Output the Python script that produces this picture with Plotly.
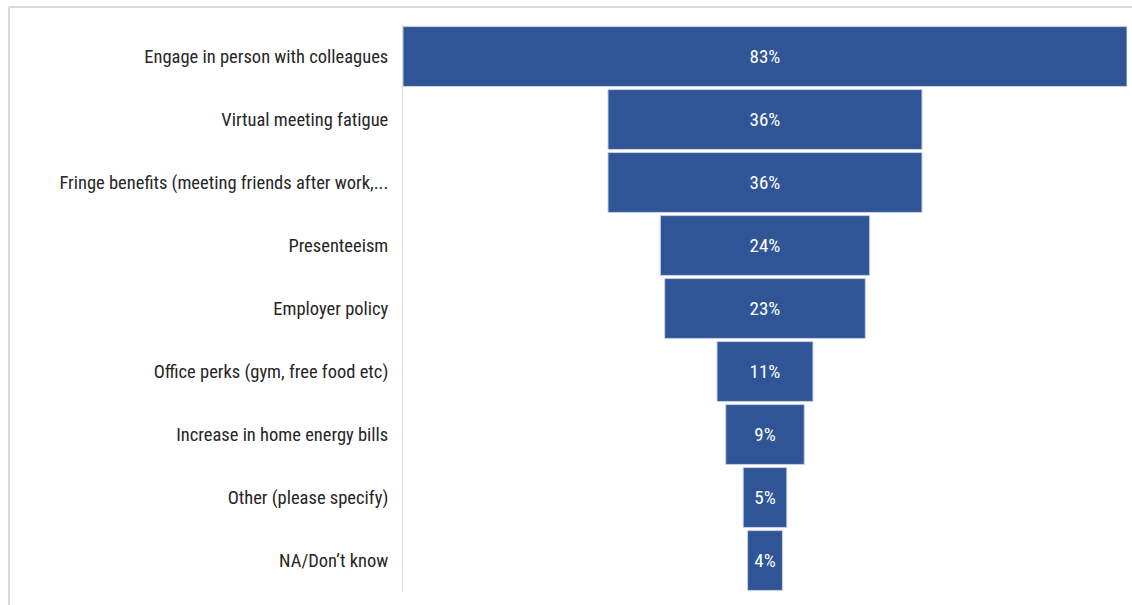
import plotly.graph_objects as go

# Survey reasons, top to bottom, with share of respondents (%)
categories = [
    "Engage in person with colleagues",
    "Virtual meeting fatigue",
    "Fringe benefits (meeting friends after work,...",
    "Presenteeism",
    "Employer policy",
    "Office perks (gym, free food etc)",
    "Increase in home energy bills",
    "Other (please specify)",
    "NA/Don\u2019t know",
]
values = [83, 36, 36, 24, 23, 11, 9, 5, 4]

FONT = "Liberation Sans Narrow, Arial Narrow, Roboto Condensed, Roboto, sans-serif"
W, H = 1132, 605
L, R, T, B = 403, 5, 25, 13

fig = go.Figure(
    go.Funnel(
        y=categories,
        x=values,
        orientation="h",
        texttemplate="%{x}%",
        textposition="inside",
        insidetextanchor="middle",
        textfont=dict(family=FONT, size=19, color="white"),
        marker=dict(color="#2F5597", line=dict(color="#c5d0e6", width=1)),
        connector=dict(visible=False),
        hoverinfo="y+x",
    )
)

half = max(values) / 2
fig.update_layout(
    width=W,
    height=H,
    margin=dict(l=L, r=R, t=T, b=B),
    paper_bgcolor="white",
    plot_bgcolor="white",
    showlegend=False,
    funnelgap=0.05,
    xaxis=dict(visible=False, range=[-half, half], fixedrange=True),
    yaxis=dict(
        showline=True,
        linecolor="#d9d9d9",
        linewidth=1,
        showgrid=False,
        ticks="",
        ticklabelstandoff=10,
        tickfont=dict(family=FONT, size=18.5, color="#262626"),
        automargin=False,
    ),
)

# Light frame around the chart area (top and left edges)
pw, ph = W - L - R, H - T - B
px = lambda x: (x - L) / pw
py = lambda y: 1 - (y - T) / ph
frame = dict(color="#d9d9d9", width=2)
fig.add_shape(type="line", xref="paper", yref="paper",
              x0=px(9), x1=px(W + 5), y0=py(7), y1=py(7), line=frame)
fig.add_shape(type="line", xref="paper", yref="paper",
              x0=px(9), x1=px(9), y0=py(7), y1=py(H + 5), line=frame)

fig.write_html("out.html")
